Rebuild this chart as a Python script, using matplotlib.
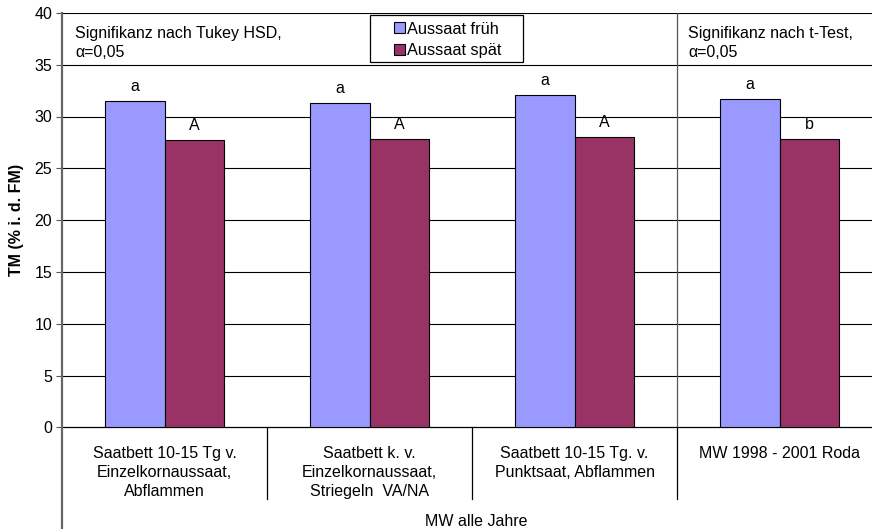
import numpy as np
import matplotlib.pyplot as plt
from matplotlib.patches import Patch, Rectangle
import matplotlib.transforms as mtransforms

plt.rcParams['font.family'] = ['Liberation Sans', 'DejaVu Sans']
plt.rcParams['font.size'] = 11.5

# Daten
gruppen = ['Saatbett 10-15 Tg v.\nEinzelkornaussaat,\nAbflammen',
           'Saatbett k. v.\nEinzelkornaussaat,\nStriegeln  VA/NA',
           'Saatbett 10-15 Tg. v.\nPunktsaat, Abflammen',
           'MW 1998 - 2001 Roda']
frueh = [31.5, 31.3, 32.1, 31.7]
spaet = [27.7, 27.8, 28.05, 27.8]
buchst_frueh = ['a', 'a', 'a', 'a']
buchst_spaet = ['A', 'A', 'A', 'b']
y_ticks = [0, 5, 10, 15, 20, 25, 30, 35, 40]

col_frueh = '#9999FF'
col_spaet = '#993366'
fs = 11.5

W, H = 872, 529
fig = plt.figure(figsize=(W / 100, H / 100), dpi=100)
x0, x1 = 62, 882
y0, y1 = 427.3, 12.9
ax = fig.add_axes([x0 / W, 1 - y0 / H, (x1 - x0) / W, (y0 - y1) / H])

x = np.arange(len(gruppen))
bw = 0.288
ax.bar(x - bw / 2, frueh, bw, color=col_frueh, edgecolor='black', linewidth=0.8, zorder=3)
ax.bar(x + bw / 2, spaet, bw, color=col_spaet, edgecolor='black', linewidth=0.8, zorder=3)

for i in range(len(gruppen)):
    ax.text(x[i] - bw / 2, frueh[i] + 1.4, buchst_frueh[i], ha='center', va='center', fontsize=fs)
    ax.text(x[i] + bw / 2, spaet[i] + 1.4, buchst_spaet[i], ha='center', va='center', fontsize=fs)

ax.set_xlim(-0.5, 3.5)
ax.set_ylim(0, 40)
ax.set_yticks(y_ticks)
ax.set_xticks([])
for yt in y_ticks[1:]:
    ax.axhline(yt, color='black', linewidth=0.8, zorder=1)
for s in ['top', 'right', 'left']:
    ax.spines[s].set_visible(False)
ax.spines['bottom'].set_color('black')
ax.spines['bottom'].set_linewidth(0.9)
ax.tick_params(axis='y', length=4, width=0.8, color='#555555', pad=3, labelsize=fs)

# linke Achse bis ganz unten
ax.plot([0, 0], [1, -0.26], transform=ax.transAxes, color='#666666', linewidth=1.6,
        clip_on=False, zorder=4)

# Trennlinien
trans = mtransforms.blended_transform_factory(ax.transData, ax.transAxes)
for xs in [0.5, 1.5, 2.5]:
    ax.plot([xs, xs], [0, -0.173], transform=trans, color='black', linewidth=0.9, clip_on=False)
ax.plot([2.5, 2.5], [0, 1], transform=trans, color='#555555', linewidth=0.9, zorder=2)

# Kategorienbeschriftung
for i, g in enumerate(gruppen):
    ax.text(x[i], -0.045, g, transform=trans, ha='center', va='top', fontsize=fs, linespacing=1.32)
fig.text(476 / W, 1 - 521 / H, 'MW alle Jahre', ha='center', va='center', fontsize=fs)

fig.text(17 / W, 1 - 220 / H, 'TM (% i. d. FM)', fontweight='bold', fontsize=fs,
         rotation=90, ha='center', va='center')

# Signifikanz-Hinweise
fig.text(75 / W, 1 - 26 / H, 'Signifikanz nach Tukey HSD,\nα=0,05', ha='left', va='top',
         fontsize=fs, linespacing=1.35)
fig.text(688 / W, 1 - 26 / H, 'Signifikanz nach t-Test,\nα=0,05', ha='left', va='top',
         fontsize=fs, linespacing=1.35)

# Legende
fig.patches.append(Rectangle((370 / W, 1 - 62 / H), 153 / W, 47 / H, transform=fig.transFigure,
                             facecolor='white', edgecolor='black', linewidth=0.9, zorder=5))
handles = [Patch(facecolor=col_frueh, edgecolor='black', linewidth=0.8),
           Patch(facecolor=col_spaet, edgecolor='black', linewidth=0.8)]
leg = fig.legend(handles, ['Aussaat früh', 'Aussaat spät'], loc='center',
                 bbox_to_anchor=(448 / W, 1 - 40 / H), fontsize=11.8, frameon=False,
                 handlelength=0.68, handleheight=0.68, handletextpad=0.12,
                 borderpad=0, labelspacing=0.42, borderaxespad=0)
leg.set_zorder(6)

fig.savefig('out.png', dpi=100)
